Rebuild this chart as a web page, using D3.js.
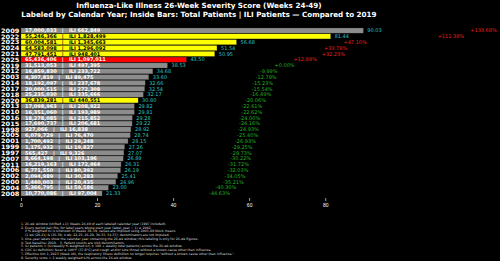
<!DOCTYPE html>
<meta charset="utf-8">
<style>
body { margin: 0; background: #000; }
svg { display: block; background: #000; font-family: "DejaVu Sans", sans-serif; }
.tick text { fill: #fff; font-size: 5px; }
.tick line { stroke: #fff; stroke-width: 0.6; }
</style>
<svg width="500" height="261"></svg>
<script src="https://d3js.org/d3.v7.min.js"></script>
<script>

// rows, ordered as drawn (highest score on top)
var years = ["2009","2022","2023","2024","2021","2025","2019","2012","2003","2014",
             "2017","2018","2020","2013","2010","2016","2015","1998","2005","2001",
             "1999","1997","2007","2011","2006","2002","2000","2004","2008"];
var scores = [90.03,81.44,56.68,51.54,50.95,43.50,38.53,34.68,33.60,32.66,
              32.54,32.17,30.80,29.82,29.81,29.28,29.22,28.92,28.74,28.15,
              27.26,27.07,26.89,26.31,26.19,25.41,24.96,23.00,21.33];
var totals = ["17,000,033","55,246,366","60,004,581","64,583,098","47,791,451","65,436,406",
              "31,513,053","16,859,830","4,307,819","18,192,097","20,000,515","25,235,030",
              "36,839,281","17,098,963","16,351,060","18,278,085","17,690,737","927,066",
              "6,079,729","1,700,492","1,175,932","565,427","8,664,198","16,219,163",
              "6,771,550","2,094,989","1,440,003","5,366,795","10,770,086"];
var iliCounts = ["662,849","1,828,499","1,345,663","1,296,092","948,401","1,097,011",
                 "497,395","233,722","89,475","237,678","272,308","335,666",
                 "440,551","208,922","193,989","215,852","206,681","16,838",
                 "76,470","29,248","19,827","9,326","103,196","172,464",
                 "80,392","30,283","20,435","59,586","97,004"];
var pctVs2019 = [133.68,111.38,47.10,33.78,32.23,12.89,0.00,-9.99,-12.79,-15.23,
                 -15.54,-16.49,-20.06,-22.61,-22.62,-24.00,-24.16,-24.93,-25.40,-26.93,
                 -29.25,-29.73,-30.22,-31.72,-32.03,-34.05,-35.21,-40.30,-44.63];
var yellowYears = ["2020","2021","2022","2023","2024"];
var redYears = ["2025"];
var xTicks = [0, 20, 40, 60, 80];

var footnotes = [
  "1. 26-wk window (shifted +1): Weeks 24-49 of each labeled calendar year (1997 included).",
  "2. Every period pair fits; for label years whose start year (label_year \u2212 1) \u2265 2002,",
  "    if % weighted ILI is Unknown in Weeks 38\u201339, values are imputed using 2003\u201308 block means",
  "    (1 wk (20-21) & (36-39; 4 wk: 22-25, 26-29, 30-33, 34-37); denominators are not imputed.",
  "3. One-year labels show the calendar year containing the 26-wk window; this labeling is only for 26-wk figures.",
  "4. Test baseline: 2019.   5. Patient counts are visit denominators.",
  "5. ILI patients = (ILI/weekly % weighted ILI) \u00d7 100 + weekly total patients) across the 26-wk window.",
  "6. CDC ILI definition: fever \u2265 100\u00b0F (37.8\u00b0C) and cough and/or sore throat without a known cause other than influenza.",
  "7. Effective Oct 1, 2023 (Week 40), the respiratory illness definition no longer requires \"without a known cause other than influenza.\"",
  "8. Severity score = \u03a3 weekly weighted ILI% across the 26-wk window."
];

var data = years.map(function(y, i) {
  return {year: y, score: scores[i], total: totals[i], ili: iliCounts[i], pct: pctVs2019[i]};
});

var svg = d3.select("svg"),
    margin = {left: 21, top: 28, right: 123, bottom: 65},
    width = +svg.attr("width") - margin.left - margin.right,
    height = +svg.attr("height") - margin.top - margin.bottom;

var x = d3.scaleLinear()
    .domain([0, d3.max(scores) * 1.04])
    .range([margin.left, margin.left + width]);

var y = d3.scaleBand()
    .domain(years)
    .range([margin.top, margin.top + height])
    .paddingInner(0.12);

function barColor(d) {
  if (redYears.indexOf(d.year) >= 0) return "#ff0000";
  if (yellowYears.indexOf(d.year) >= 0) return "#ffff00";
  return "#8c8c8c";
}

// title
var cx = margin.left + width / 2;
svg.append("text")
    .attr("x", cx).attr("y", 8)
    .attr("text-anchor", "middle")
    .attr("fill", "#fff").attr("font-size", "7.2px").attr("font-weight", "bold")
    .text("Influenza-Like Illness 26-Week Severity Score (Weeks 24-49)");
svg.append("text")
    .attr("x", cx).attr("y", 17)
    .attr("text-anchor", "middle")
    .attr("fill", "#fff").attr("font-size", "7.2px").attr("font-weight", "bold")
    .text("Labeled by Calendar Year; Inside Bars: Total Patients | ILI Patients \u2014 Compared to 2019");

var rows = svg.append("g").selectAll("g")
  .data(data)
  .enter().append("g");

rows.append("rect")
    .attr("x", x(0))
    .attr("y", function(d) { return y(d.year); })
    .attr("width", function(d) { return x(d.score) - x(0); })
    .attr("height", y.bandwidth())
    .attr("fill", barColor)
    .attr("stroke", "#333")
    .attr("stroke-width", 0.3);

rows.append("text")
    .attr("x", x(0) - 1.5)
    .attr("y", function(d) { return y(d.year) + y.bandwidth() / 2; })
    .attr("dy", "0.36em")
    .attr("text-anchor", "end")
    .attr("fill", "#fff").attr("font-size", "6px").attr("font-weight", "bold")
    .attr("textLength", 18.5).attr("lengthAdjust", "spacingAndGlyphs")
    .text(function(d) { return d.year; });

rows.append("text")
    .attr("x", x(0) + 4)
    .attr("y", function(d) { return y(d.year) + y.bandwidth() / 2; })
    .attr("dy", "0.36em")
    .attr("fill", function(d) { return barColor(d) === "#ffff00" ? "#000" : "#fff"; })
    .attr("font-size", "5px").attr("font-weight", "bold")
    .attr("xml:space", "preserve")
    .text(function(d) { return d.total + "   |   ILI " + d.ili; });

rows.append("text")
    .attr("x", function(d) { return x(d.score) + 4; })
    .attr("y", function(d) { return y(d.year) + y.bandwidth() / 2; })
    .attr("dy", "0.36em")
    .attr("fill", "#2ec4c4").attr("font-size", "5px")
    .text(function(d) { return d.score.toFixed(2); });

rows.append("text")
    .attr("x", function(d) { return x(d.score) + 107; })
    .attr("y", function(d) { return y(d.year) + y.bandwidth() / 2; })
    .attr("dy", "0.36em")
    .attr("fill", function(d) { return d.pct > 0 ? "#e0201f" : "#22b022"; })
    .attr("font-size", "5px")
    .text(function(d) { return (d.pct >= 0 ? "+" : "") + d.pct.toFixed(2) + "%"; });

svg.append("g")
    .attr("transform", "translate(0," + (margin.top + height + 2) + ")")
    .call(d3.axisBottom(x).tickValues(xTicks).tickSize(3).tickPadding(2))
    .call(function(g) { g.select(".domain").remove(); });

svg.append("g").selectAll("text")
  .data(footnotes)
  .enter().append("text")
    .attr("x", margin.left)
    .attr("y", function(d, i) { return 225 + i * 3.74; })
    .attr("fill", "#ddd").attr("font-size", "3.2px")
    .attr("xml:space", "preserve")
    .text(function(d) { return d; });

</script>
